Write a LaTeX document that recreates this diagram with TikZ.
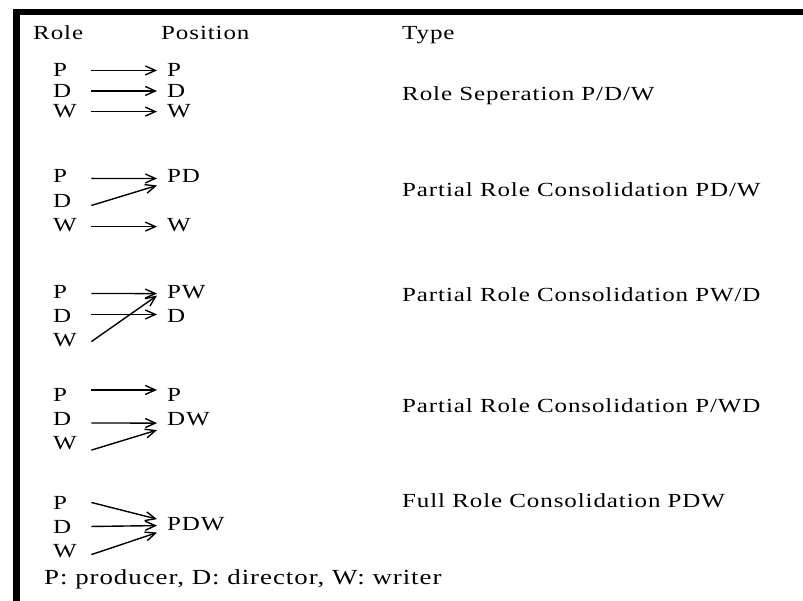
\documentclass[tikz,border=0pt]{standalone}
\usepackage{fontspec}
\setmainfont[FakeStretch=1.25,LetterSpace=4.5]{Liberation Serif}
\usetikzlibrary{arrows.meta}
\begin{document}
\begin{tikzpicture}[x=1pt,y=-1pt,
  every node/.style={inner sep=0pt, font=\fontsize{20}{24}\selectfont},
  rolebox/.style={anchor=base west, text width=38pt, align=left},
  posbox/.style={anchor=base west, inner xsep=10pt, inner ysep=0pt},
  txtbox/.style={anchor=base west},
  link/.style={line width=1.4pt, -{Straight Barb[length=10pt,width=9pt]}},
  framebar/.style={fill=black, draw=none}]
\useasboundingbox (0,0) rectangle (803,601);
% frame bars
\fill[framebar] (13,9) rectangle (803,15.5);
\fill[framebar] (13,9) rectangle (19.5,601);

% headers
\node[txtbox] (hrole) at (33,39.5) {Role};
\node[txtbox] (hpos)  at (161,39.5) {Position};
\node[txtbox] (htype) at (402,40) {Type};

% group 1: separation
\node[rolebox] (a1) at (53,77)   {P};
\node[rolebox] (a2) at (53,97.5) {D};
\node[rolebox] (a3) at (53,118)  {W};
\node[posbox]  (A1) at (157,77)  {P};
\node[posbox]  (A2) at (157,97.5){D};
\node[posbox]  (A3) at (157,118) {W};
\node[txtbox]  (t1) at (402,101) {Role Seperation P/D/W};
\draw[link] (a1.east) -- (A1.west);
\draw[link] (a2.east) -- (A2.west);
\draw[link] (a3.east) -- (A3.west);

% group 2: PD/W
\node[rolebox] (b1) at (53,183) {P};
\node[rolebox] (b2) at (53,208) {D};
\node[rolebox] (b3) at (53,232) {W};
\node[posbox]  (B1) at (157,183) {PD};
\node[posbox]  (B3) at (157,232) {W};
\node[txtbox]  (t2) at (402,197) {Partial Role Consolidation PD/W};
\draw[link] ([yshift=-2pt]b1.east) -- ([yshift=-2pt]B1.west);
\draw[link] ([yshift=-4pt]b2.east) -- ([yshift=-9pt]B1.west);
\draw[link] ([yshift=-1pt]b3.east) -- ([yshift=-1pt]B3.west);

% group 3: PW/D
\node[rolebox] (c1) at (53,299) {P};
\node[rolebox] (c2) at (53,323) {D};
\node[rolebox] (c3) at (53,347) {W};
\node[posbox]  (C1) at (157,299) {PW};
\node[posbox]  (C2) at (157,323) {D};
\node[txtbox]  (t3) at (402,302) {Partial Role Consolidation PW/D};
\draw[link] ([yshift=-1pt]c1.east) -- ([yshift=-1pt]C1.west);
\draw[link] ([yshift=2pt]c2.east) -- ([yshift=2pt]C2.west);
\draw[link] ([yshift=-1pt]c3.east) -- ([yshift=-3pt]C1.west);

% group 4: P/WD
\node[rolebox] (d1) at (53,401) {P};
\node[rolebox] (d2) at (53,425) {D};
\node[rolebox] (d3) at (53,449) {W};
\node[posbox]  (D1) at (157,401) {P};
\node[posbox]  (D2) at (157,425) {DW};
\node[txtbox]  (t4) at (402,412) {Partial Role Consolidation P/WD};
\draw[link] ([yshift=4.5pt]d1.east) -- ([yshift=4.5pt]D1.west);
\draw[link] ([yshift=-4.5pt]d2.east) -- ([yshift=-4.5pt]D2.west);
\draw[link] ([yshift=-7.5pt]d3.east) -- ([yshift=-11.5pt]D2.west);

% group 5: PDW
\node[rolebox] (e1) at (53,509) {P};
\node[rolebox] (e2) at (53,533) {D};
\node[rolebox] (e3) at (53,557) {W};
\node[posbox]  (E1) at (157,530) {PDW};
\node[txtbox]  (t5) at (402,507) {Full Role Consolidation PDW};
\draw[link] (e1.east) -- ([yshift=4.5pt]E1.west);
\draw[link] (e2.east) -- ([yshift=-2pt]E1.west);
\draw[link] ([yshift=-4pt]e3.east) -- ([yshift=-9pt]E1.west);

% legend
\node[txtbox, font=\fontsize{21.5}{25}\selectfont] (legend) at (44,584) {P: producer, D: director, W: writer};
\end{tikzpicture}
\end{document}
